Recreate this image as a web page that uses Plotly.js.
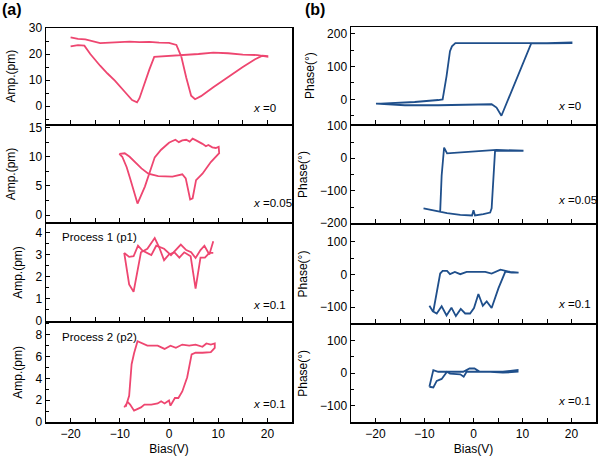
<!DOCTYPE html>
<html>
<head>
<meta charset="utf-8">
<script src="https://cdn.plot.ly/plotly-3.0.1.min.js"></script>
<style>html,body{margin:0;padding:0;background:#fff;}#chart{width:600px;height:460px;}</style>
</head>
<body>
<div id="chart"></div>
<script>
// ---- Data ----
// (a) amplitude loops, x = 0
const biasA1 = [-20,-18.5,-17,-15.5,-14,-12,-10,-8,-6,-4,-2,0,1.5,2.5,3.5,4.5,5.3,6.5,9,12,15,17.5,19,20,
                20,18,15,12,9,6,3,0,-3,-4,-5,-6,-6.5,-7.5,-9,-11,-12.5,-14,-16,-17.2,-18.5,-20];
const ampA1  = [26.4,25.8,25.6,24.8,24.2,24.4,24.6,24.8,24.6,24.7,24.4,24.3,23.5,19,11,4,2.6,3.8,7.2,11.2,15,18,19.4,19.2,
                19.0,19.6,19.8,20.3,20.5,20.0,19.7,19.2,18.9,14,8.5,3,1.4,2.3,5.5,9.8,12.5,15.5,20,23.2,23.4,22.9];
// x = 0.05
const biasA2 = [-10.1,-9,-8,-7,-5.6,-4.2,-2.2,0.7,2.7,3.4,4.3,4.8,5.5,6.8,8.5,10.2,
                10.1,9.5,8.8,8,7.5,6.8,6,5.5,4.8,4.2,3.5,2.7,2,1.3,0.5,0,-0.8,-1.6,-2.9,-4.2,-4.9,-6.4,-7.2,-7.9,-8.6,-9.5,-10.1];
const ampA2  = [10.5,10.6,10.0,9.1,8.0,7.1,6.7,6.6,7.0,6.3,2.7,2.9,6.0,7.1,9.1,10.6,
                11.7,11.5,11.6,12.0,11.8,12.2,12.5,12.8,13.1,12.6,12.9,12.8,12.5,12.9,12.6,12.4,11.8,11.2,9.9,6.8,4.9,2.0,4.5,6.3,8.2,10.0,10.5];
// x = 0.1, process 1
const biasA3 = [-9.1,-8.1,-7.2,-5.7,-4.4,-2.9,-2,-1,0,1.1,2.1,3.1,4.4,5.4,6.4,7.3,8.2,9.0];
const ampA3  = [3.07,1.64,1.3,3.1,3.26,3.75,3.33,2.74,3.0,3.1,2.86,3.1,2.92,1.45,2.86,2.86,3.07,3.07];
const biasA3b = [-9.1,-8.1,-7.2,-6.3,-5.4,-3.6,-2.6,-1,0.4,2.4,3.5,4.5,5.4,6.4,7.2,8.2,9.0];
const ampA3b  = [3.07,2.89,2.92,3.4,3.18,2.97,3.4,3.26,2.97,3.45,3.2,3.1,2.84,3.2,3.4,3.0,3.6];
// x = 0.1, process 2
const biasA4 = [-9.1,-8.4,-7.9,-7.1,-5.7,-5,-3.6,-2.3,-1.6,-0.9,0,0.3,1.2,1.9,2.7,3.7,4.6,5.4,6.8,8.5,9.3,
                9.3,8.5,7.6,6.8,5.4,4.1,2.7,1.4,0.3,-0.9,-2.3,-4.4,-5.4,-6.4,-7.1,-7.6,-8.1,-8.8];
const ampA4  = [1.34,1.84,1.6,1.04,1.34,1.6,1.6,1.7,1.9,1.7,1.98,1.5,2.2,2.2,2.8,4.1,6.2,6.35,6.35,6.4,6.8,
                7.2,7.1,7.2,6.9,7.1,7.0,7.1,6.8,7.0,6.7,7.0,7.0,7.2,7.4,6.3,5.3,2.4,1.4];

// (b) phase loops, x = 0
const biasB1 = [-19.9,-14,-7.2,-0.4,3.7,4.7,5.7,11.8,15,20,
                20,15,10,5,0,-3.7,-4.4,-4.8,-5.5,-6.3,-7.2,-12,-19.9];
const phaseB1 = [-13,-18,-18,-16,-15,-25,-50,172,171,172,
                 174,172,172,172,172,172,162,147,71,0,-2,-8,-14];
// x = 0.05
const biasB2 = [-10.2,-6.8,-5.4,-2.7,-0.3,0,0.3,2,3.4,3.7,4.4,6.1,10.2,
                10.2,4.7,0,-4.1,-5.4,-6.0,-6.1,-6.5,-6.8];
const phaseB2 = [-154,-164,-169,-174,-176,-160,-176,-172,-167,-154,23,23,23,
                 23,26,21,18,15,33,18,-53,-164];
// x = 0.1, process 1
const biasB3 = [-9.0,-8.3,-7.5,-6.5,-5.5,-4.5,-3.6,-2.6,-1.7,-0.7,0.1,1.0,1.9,2.7,3.7,5.1,6.5,7.8,9.2,
                9.2,7.5,5.5,3.7,2.4,0.3,-1.4,-2.7,-3.8,-4.8,-5.4,-6.3,-6.8,-8.2];
const phaseB3 = [-96,-113,-120,-98,-126,-102,-128,-106,-120,-120,-103,-60,-96,-83,-103,-42,9,6,6,
                 6,8,15,3,8,8,8,1,8,1,11,11,3,-113];
// x = 0.1, process 2
const biasB4 = [-9.0,-8.2,-7.2,-2.1,-0.8,0.2,1.3,6,9,
                9,6,3.4,-1.4,-2,-2.7,-4.8,-5.4,-6.5,-7.5,-8.2,-9.0];
const phaseB4 = [-42,9,4,4,14,14,4,4,9,
                 4,1,4,4,-11,-4,-2,4,-18,-24,-44,-42];

// panel texts
const compLabels = ['x =0','x =0.05','x =0.1','x =0.1'];
const processLabels = ['Process 1 (p1)','Process 2 (p2)'];

// ---- Styling ----
const pink = '#EE4670';
const blue = '#1F4F8B';
const W = 600, H = 460;
const LW = 1.5;
const fontFam = 'Liberation Sans, Arial, sans-serif';

const leftX = [46/W, 292/W];
const rightX = [351/W, 596/W];
const yd = (top, bot) => [1 - bot/H, 1 - top/H];
const h = LW / 2;
const leftY = [yd(28,125-h), yd(125+h,223-h), yd(223+h,322-h), yd(322+h,422)];
const rightY = [yd(27,125-h), yd(125+h,224-h), yd(224+h,324-h), yd(324+h,422)];

const leftRanges = [[-7,30],[-1.2,15.3],[-0.04,4.4],[0,9.1]];
const leftDt = [10,5,1,2];
const rightRanges = [[-76,221],[-200,100],[-150,153],[-150,148]];

const traces = [];
function addTrace(x, y, color, idx) {
  traces.push({x: x, y: y, type: 'scatter', mode: 'lines',
    line: {color: color, width: 1.8}, xaxis: 'x' + idx, yaxis: 'y' + idx,
    showlegend: false, hoverinfo: 'skip'});
}
addTrace(biasA1, ampA1, pink, 1);
addTrace(biasA2, ampA2, pink, 2);
addTrace(biasA3, ampA3, pink, 3);
addTrace(biasA3b, ampA3b, pink, 3);
addTrace(biasA4, ampA4, pink, 4);
addTrace(biasB1, phaseB1, blue, 5);
addTrace(biasB2, phaseB2, blue, 6);
addTrace(biasB3, phaseB3, blue, 7);
addTrace(biasB4, phaseB4, blue, 8);

const layout = {
  width: W, height: H,
  margin: {l: 0, r: 0, t: 0, b: 0},
  paper_bgcolor: '#fff', plot_bgcolor: '#fff',
  font: {family: fontFam, size: 12, color: '#000'},
  showlegend: false,
  annotations: []
};

function xAxis(domain, anchor, isBottom) {
  return {
    domain: domain, anchor: anchor, range: [-25, 25],
    showline: true, mirror: true, linecolor: '#000', linewidth: LW,
    ticks: 'inside', ticklen: 4, tickwidth: 1, tickcolor: '#000',
    dtick: 10, tick0: 0,
    minor: {dtick: 5, tick0: 0, ticks: 'inside', ticklen: 4, tickwidth: 1, tickcolor: '#000'},
    showgrid: false, zeroline: false,
    showticklabels: isBottom,
    tickfont: {size: 12, family: fontFam},
    title: isBottom ? {text: 'Bias(V)', font: {size: 12, family: fontFam}, standoff: 4} : {text: ''}
  };
}
function yAxis(domain, anchor, range, dt, title) {
  return {
    domain: domain, anchor: anchor, range: range,
    showline: true, mirror: true, linecolor: '#000', linewidth: LW,
    ticks: 'inside', ticklen: 4, tickwidth: 1, tickcolor: '#000',
    dtick: dt, tick0: 0,
    minor: {dtick: dt/2, tick0: 0, ticks: 'inside', ticklen: 2.5, tickwidth: 1, tickcolor: '#000'},
    showgrid: false, zeroline: false,
    tickfont: {size: 12, family: fontFam},
    title: {text: title, font: {size: 12, family: fontFam}, standoff: 10}
  };
}

for (let i = 0; i < 4; i++) {
  const li = i + 1, ri = i + 5;
  layout['xaxis' + li] = xAxis(leftX, 'y' + li, i === 3);
  layout['yaxis' + li] = yAxis(leftY[i], 'x' + li, leftRanges[i], leftDt[i], 'Amp.(pm)');
  layout['xaxis' + ri] = xAxis(rightX, 'y' + ri, i === 3);
  layout['yaxis' + ri] = yAxis(rightY[i], 'x' + ri, rightRanges[i], 100, 'Phase(°)');
}

// composition labels
const compYL = [107.5, 202.7, 305, 404];
const compYR = [106, 200, 304, 400.7];
const annFont = {size: 11.5, family: fontFam};
for (let i = 0; i < 4; i++) {
  const t = compLabels[i].replace('x', '<i>x</i>');
  layout.annotations.push({text: t, xref: 'paper', yref: 'paper', x: 251/W, y: 1 - compYL[i]/H,
    xanchor: 'left', yanchor: 'middle', showarrow: false, font: annFont});
  layout.annotations.push({text: t, xref: 'paper', yref: 'paper', x: 556/W, y: 1 - compYR[i]/H,
    xanchor: 'left', yanchor: 'middle', showarrow: false, font: annFont});
}
layout.annotations.push({text: processLabels[0], xref: 'paper', yref: 'paper', x: 60/W, y: 1 - 237/H,
  xanchor: 'left', yanchor: 'middle', showarrow: false, font: {size: 11.5, family: fontFam}});
layout.annotations.push({text: processLabels[1], xref: 'paper', yref: 'paper', x: 60/W, y: 1 - 336.7/H,
  xanchor: 'left', yanchor: 'middle', showarrow: false, font: {size: 11.5, family: fontFam}});
layout.annotations.push({text: '<b>(a)</b>', xref: 'paper', yref: 'paper', x: 12/W, y: 1 - 9/H,
  xanchor: 'center', yanchor: 'middle', showarrow: false, font: {size: 16, family: fontFam}});
layout.annotations.push({text: '<b>(b)</b>', xref: 'paper', yref: 'paper', x: 315/W, y: 1 - 9/H,
  xanchor: 'center', yanchor: 'middle', showarrow: false, font: {size: 16, family: fontFam}});

Plotly.newPlot('chart', traces, layout, {staticPlot: true, displayModeBar: false});
</script>
</body>
</html>
